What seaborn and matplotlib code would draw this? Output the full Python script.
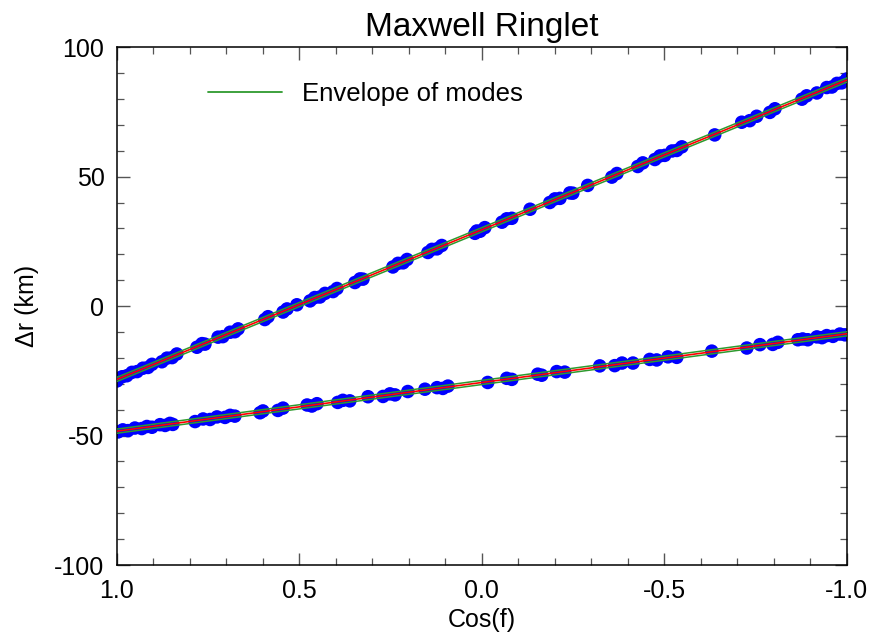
import matplotlib
matplotlib.use("Agg")
import matplotlib.pyplot as plt
from matplotlib.ticker import MultipleLocator
from matplotlib.lines import Line2D
import seaborn as sns
import pandas as pd

# ---------------- data ----------------
title = "Maxwell Ringlet"
xlabel = "Cos(f)"
ylabel = "\u0394r (km)"
legend_label = "Envelope of modes"

x_ticks = [1.0, 0.5, 0.0, -0.5, -1.0]
x_ticklabels = ["1.0", "0.5", "0.0", "-0.5", "-1.0"]
y_ticks = [-100, -50, 0, 50, 100]
y_ticklabels = ["-100", "-50", "0", "50", "100"]

# model curves (outer / inner edge)
model_cos = [1.0, 0.5, 0.0, -0.5, -1.0]
outer_model = [-28.3, 0.6, 29.5, 58.4, 87.3]
inner_model = [-48.3, -38.9, -29.5, -20.1, -10.7]
outer_env_hi = [-27.5, 1.4, 30.3, 59.2, 88.1]
outer_env_lo = [-29.1, -0.2, 28.7, 57.6, 86.5]
inner_env_hi = [-47.5, -38.1, -28.7, -19.3, -9.9]
inner_env_lo = [-49.1, -39.7, -30.3, -20.9, -11.5]

# observed points, outer edge
outer_cos = [1.000, 0.986, 0.973, 0.959, 0.945, 0.929, 0.915, 0.904, 0.877, 0.863,
             0.849, 0.836, 0.781, 0.767, 0.759, 0.723, 0.710, 0.690, 0.677, 0.668,
             0.595, 0.586, 0.545, 0.534, 0.507, 0.471, 0.458, 0.444, 0.430, 0.408,
             0.397, 0.348, 0.334, 0.326, 0.244, 0.230, 0.216, 0.205, 0.148, 0.137,
             0.123, 0.110, 0.019, 0.014, 0.005, -0.008, -0.055, -0.068, -0.082, -0.132,
             -0.186, -0.200, -0.214, -0.241, -0.249, -0.290, -0.356, -0.370, -0.427, -0.441,
             -0.474, -0.488, -0.501, -0.521, -0.534, -0.548, -0.638, -0.712, -0.734, -0.753,
             -0.789, -0.803, -0.877, -0.890, -0.918, -0.945, -0.959, -0.973, -0.986, -1.000]
outer_dr = [-28.9, -27.3, -26.9, -25.6, -25.3, -24.0, -23.7, -22.5, -21.5, -20.1,
            -19.9, -18.5, -15.9, -14.5, -14.7, -12.0, -11.8, -10.1, -9.9, -8.8,
            -5.2, -4.1, -2.3, -1.1, 0.5, 2.0, 3.3, 3.5, 4.9, 5.6,
            6.8, 9.1, 10.5, 10.4, 15.1, 16.5, 16.7, 18.0, 20.7, 21.9,
            22.1, 23.4, 28.1, 29.0, 28.9, 30.3, 32.4, 33.7, 33.9, 37.4,
            40.0, 41.4, 41.6, 43.7, 43.6, 46.6, 49.8, 51.2, 53.9, 55.3,
            56.6, 58.0, 58.2, 59.9, 60.1, 61.5, 66.1, 71.0, 71.6, 73.3,
            74.8, 76.2, 79.9, 81.2, 82.3, 84.4, 84.6, 86.0, 86.2, 87.7]

# observed points, inner edge
inner_cos = [0.997, 0.984, 0.970, 0.951, 0.932, 0.918, 0.904, 0.882, 0.868, 0.855,
             0.847, 0.786, 0.764, 0.745, 0.726, 0.704, 0.690, 0.677, 0.608, 0.600,
             0.559, 0.545, 0.479, 0.466, 0.452, 0.395, 0.381, 0.362, 0.312, 0.271,
             0.252, 0.238, 0.203, 0.156, 0.123, 0.107, 0.093, -0.016, -0.068, -0.082,
             -0.153, -0.164, -0.205, -0.227, -0.323, -0.364, -0.384, -0.414, -0.460, -0.479,
             -0.510, -0.534, -0.630, -0.726, -0.762, -0.797, -0.811, -0.866, -0.879, -0.893,
             -0.918, -0.932, -0.945, -0.962, -0.981, -0.995]
inner_dr = [-48.6, -47.8, -48.1, -47.1, -47.3, -46.5, -46.8, -45.8, -46.1, -45.3,
            -45.7, -44.6, -43.6, -43.8, -42.8, -43.0, -42.2, -42.5, -41.2, -40.5,
            -40.3, -39.4, -38.2, -38.6, -37.7, -37.2, -36.4, -36.6, -35.0, -34.9,
            -33.9, -34.3, -33.0, -32.1, -31.5, -31.8, -30.9, -29.5, -27.9, -28.3,
            -26.3, -26.7, -25.3, -25.5, -23.1, -23.0, -22.0, -22.0, -20.6, -20.8,
            -19.6, -19.8, -17.4, -16.2, -14.9, -14.8, -14.0, -13.0, -12.7, -13.0,
            -11.9, -12.2, -11.4, -11.7, -10.8, -11.1]

# ---------------- plot ----------------
sns.set_theme(style="ticks")
plt.rcParams["font.family"] = ["Liberation Sans", "DejaVu Sans"]
plt.rcParams["axes.unicode_minus"] = False
plt.rcParams["text.color"] = "black"
plt.rcParams["axes.labelcolor"] = "black"

fig = plt.figure(figsize=(8.73, 6.37), dpi=100)
ax = fig.add_axes([0.134, 0.113, 0.836, 0.813])

pts = pd.DataFrame({
    "cos": outer_cos + inner_cos,
    "dr": outer_dr + inner_dr,
})
sns.scatterplot(data=pts, x="cos", y="dr", ax=ax, color="#0000ff", s=95,
                edgecolor="none", linewidth=0, legend=False, zorder=2)

for hi, lo, mid in [(outer_env_hi, outer_env_lo, outer_model),
                    (inner_env_hi, inner_env_lo, inner_model)]:
    sns.lineplot(x=model_cos, y=hi, ax=ax, color="#2e9a2e", lw=1.1, zorder=3)
    sns.lineplot(x=model_cos, y=lo, ax=ax, color="#2e9a2e", lw=1.1, zorder=3)
    sns.lineplot(x=model_cos, y=mid, ax=ax, color="#ff0000", lw=1.2, zorder=4)

handle = Line2D([], [], color="#2e9a2e", lw=1.3)
ax.legend([handle], [legend_label], loc="upper left",
          bbox_to_anchor=(0.093, 0.977), frameon=False, fontsize=18.5,
          handlelength=2.9, handletextpad=0.75, labelcolor="black")

ax.set_xlim(1.0, -1.0)
ax.set_ylim(-100, 100)
ax.set_xticks(x_ticks)
ax.set_xticklabels(x_ticklabels)
ax.set_yticks(y_ticks)
ax.set_yticklabels(y_ticklabels)
ax.xaxis.set_minor_locator(MultipleLocator(0.1))
ax.yaxis.set_minor_locator(MultipleLocator(10))
ax.tick_params(which="both", direction="in", top=True, right=True,
               labelsize=18, colors="#555555", labelcolor="black")
ax.tick_params(axis="x", which="major", pad=10)
ax.tick_params(axis="y", which="major", pad=9)
ax.tick_params(which="major", length=9, width=1)
ax.tick_params(which="minor", length=5, width=0.9)
for sp in ax.spines.values():
    sp.set_color("black")
    sp.set_linewidth(1.1)

ax.set_xlabel(xlabel, fontsize=18, labelpad=4)
ax.set_ylabel(ylabel, fontsize=18, labelpad=11)
ax.set_title(title, fontsize=24, pad=8)

fig.savefig("out.png", dpi=100)
